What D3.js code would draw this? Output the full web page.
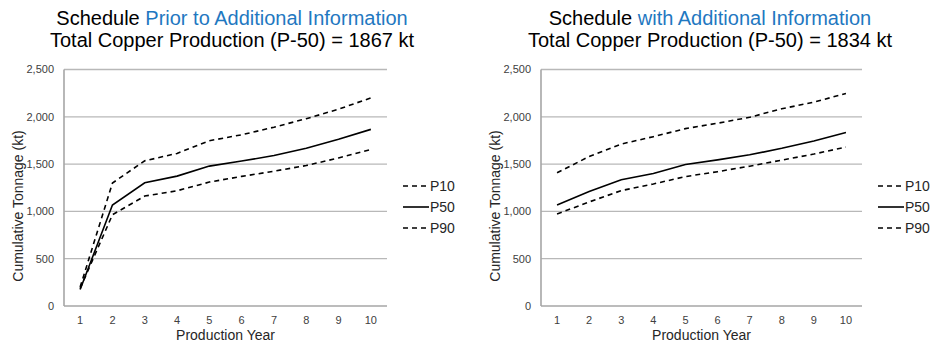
<!DOCTYPE html>
<html><head><meta charset="utf-8">
<script src="https://cdn.jsdelivr.net/npm/d3@7"></script>
<style>body{margin:0;background:#fff}svg{display:block;font-family:"Liberation Sans",Arial,sans-serif}</style>
</head><body><svg id="c" width="932" height="349"></svg>
<script>
const years = [1,2,3,4,5,6,7,8,9,10];
const yTicks = [0,500,1000,1500,2000,2500];
const seriesNames = ["P10","P50","P90"];

const priorP10 = [200,1300,1535,1613,1747,1810,1890,1980,2080,2200];
const priorP50 = [175,1067,1303,1373,1479,1532,1590,1668,1762,1867];
const priorP90 = [185,965,1162,1218,1310,1370,1425,1485,1565,1655];

const addP10 = [1408,1580,1712,1790,1875,1932,1995,2085,2155,2247];
const addP50 = [1067,1210,1335,1400,1495,1545,1598,1667,1745,1834];
const addP90 = [972,1100,1220,1290,1368,1420,1478,1542,1606,1680];

const titles1 = [["Schedule ","Prior to Additional Information"],["Schedule ","with Additional Information"]];
const titles2 = ["Total Copper Production (P-50) = 1867 kt","Total Copper Production (P-50) = 1834 kt"];

const svg = d3.select("#c");

function chart(cfg){
  const {x0,x1,titleX,t1,t2,data} = cfg;
  const yTop = 69.5, yBot = 306;
  const x = d3.scalePoint().domain(years).range([x0,x1]).padding(0.5);
  const y = d3.scaleLinear().domain([0,2500]).range([yBot,yTop]);
  const g = svg.append("g");
  // titles
  const tt = g.append("text").attr("x",titleX).attr("y",25).attr("text-anchor","middle").attr("font-size",20).attr("fill","#000");
  tt.append("tspan").text(t1[0]);
  tt.append("tspan").attr("fill","#1f78c1").text(t1[1]);
  g.append("text").attr("x",titleX).attr("y",47).attr("text-anchor","middle").attr("font-size",20).attr("fill","#000").text(t2);
  // grid
  g.selectAll("line.grid").data(yTicks.filter(d=>d>0)).join("line")
    .attr("x1",x0).attr("x2",x1).attr("y1",d=>y(d)).attr("y2",d=>y(d))
    .attr("stroke","#b8b8b8").attr("stroke-width",1.3);
  // axes lines
  g.append("line").attr("x1",x0).attr("x2",x1).attr("y1",yBot).attr("y2",yBot).attr("stroke","#a6a6a6").attr("stroke-width",1.6);
  g.append("line").attr("x1",x0).attr("x2",x0).attr("y1",yTop).attr("y2",yBot).attr("stroke","#a6a6a6").attr("stroke-width",1.6);
  // y labels
  const fmt = d3.format(",");
  g.selectAll("text.yl").data(yTicks).join("text")
    .attr("x",x0-10).attr("y",d=>y(d)).attr("dy","0.35em").attr("text-anchor","end")
    .attr("font-size",11).attr("fill","#404040").text(d=>fmt(d));
  // x labels
  g.selectAll("text.xl").data(years).join("text")
    .attr("x",d=>x(d)).attr("y",324).attr("text-anchor","middle")
    .attr("font-size",11).attr("fill","#404040").text(d=>d);
  // axis titles
  g.append("text").attr("x",(x0+x1)/2).attr("y",340).attr("text-anchor","middle").attr("font-size",14).attr("fill","#262626").text("Production Year");
  g.append("text").attr("transform",`translate(${x0-41},206) rotate(-90)`).attr("text-anchor","middle").attr("font-size",14).attr("fill","#262626").text("Cumulative Tonnage (kt)");
  // lines
  const line = d3.line().x((d,i)=>x(years[i])).y(d=>y(d));
  data.forEach((s,k)=>{
    g.append("path").attr("d",line(s)).attr("fill","none").attr("stroke","#000")
      .attr("stroke-width",1.6).attr("stroke-dasharray",k===1?null:"5,4");
  });
  // legend
  const lx = x1+16;
  seriesNames.forEach((n,k)=>{
    const ly = 186 + k*21;
    g.append("line").attr("x1",lx).attr("x2",lx+26).attr("y1",ly).attr("y2",ly)
      .attr("stroke","#000").attr("stroke-width",1.6).attr("stroke-dasharray",k===1?null:"5,4");
    g.append("text").attr("x",lx+27).attr("y",ly).attr("dy","0.35em").attr("font-size",14).attr("fill","#262626").text(n);
  });
}

chart({x0:64,x1:387,titleX:232,t1:titles1[0],t2:titles2[0],data:[priorP10,priorP50,priorP90]});
chart({x0:541,x1:862,titleX:710,t1:titles1[1],t2:titles2[1],data:[addP10,addP50,addP90]});
</script></body></html>
